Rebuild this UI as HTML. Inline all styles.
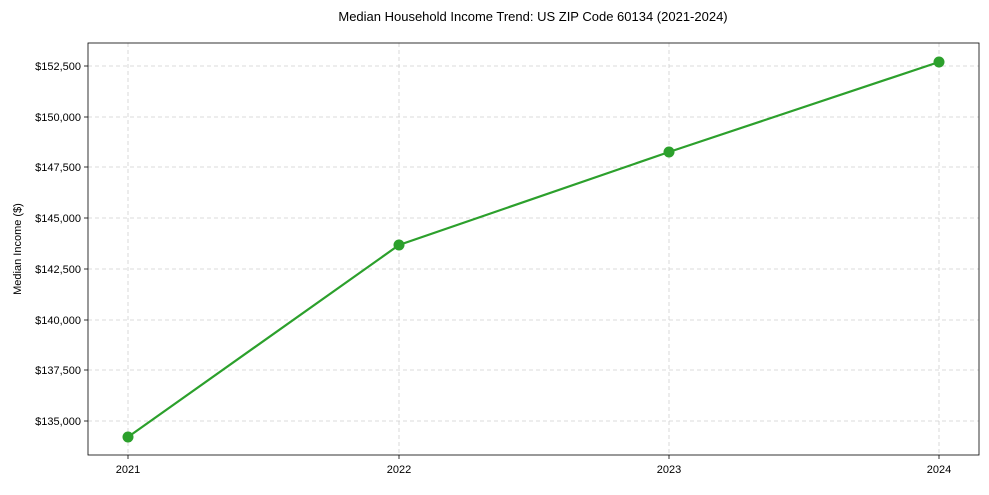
<!DOCTYPE html>
<html><head><meta charset="utf-8"><style>
html,body{margin:0;padding:0;background:#fff;}
svg text{font-family:"Liberation Sans Narrow","Liberation Sans",sans-serif;fill:#000;}
</style></head><body>
<svg width="989" height="490" viewBox="0 0 989 490" xmlns="http://www.w3.org/2000/svg">
<rect width="989" height="490" fill="#fff"/>
<g stroke="#d0d0d0" stroke-width="0.8" stroke-dasharray="4,3">
<line x1="128" y1="43" x2="128" y2="455"/>
<line x1="399" y1="43" x2="399" y2="455"/>
<line x1="669" y1="43" x2="669" y2="455"/>
<line x1="939" y1="43" x2="939" y2="455"/>
<line x1="88" y1="66" x2="979" y2="66"/>
<line x1="88" y1="117" x2="979" y2="117"/>
<line x1="88" y1="167" x2="979" y2="167"/>
<line x1="88" y1="218" x2="979" y2="218"/>
<line x1="88" y1="269" x2="979" y2="269"/>
<line x1="88" y1="320" x2="979" y2="320"/>
<line x1="88" y1="370" x2="979" y2="370"/>
<line x1="88" y1="421" x2="979" y2="421"/>
</g>
<rect x="88" y="43" width="891" height="412" fill="none" stroke="#000" stroke-width="0.8"/>
<g stroke="#000" stroke-width="0.8">
<line x1="128" y1="455" x2="128" y2="459"/><line x1="399" y1="455" x2="399" y2="459"/>
<line x1="669" y1="455" x2="669" y2="459"/><line x1="939" y1="455" x2="939" y2="459"/>
<line x1="84" y1="66" x2="88" y2="66"/><line x1="84" y1="117" x2="88" y2="117"/>
<line x1="84" y1="167" x2="88" y2="167"/><line x1="84" y1="218" x2="88" y2="218"/>
<line x1="84" y1="269" x2="88" y2="269"/><line x1="84" y1="320" x2="88" y2="320"/>
<line x1="84" y1="370" x2="88" y2="370"/><line x1="84" y1="421" x2="88" y2="421"/>
</g>
<g font-size="11" text-anchor="end">
<text x="81" y="70">$152,500</text><text x="81" y="121">$150,000</text>
<text x="81" y="171">$147,500</text><text x="81" y="222">$145,000</text>
<text x="81" y="273">$142,500</text><text x="81" y="324">$140,000</text>
<text x="81" y="374">$137,500</text><text x="81" y="425">$135,000</text>
</g>
<g font-size="11" text-anchor="middle">
<text x="128" y="473">2021</text><text x="399" y="473">2022</text>
<text x="669" y="473">2023</text><text x="939" y="473">2024</text>
</g>
<text x="21" y="249" font-size="11" text-anchor="middle" transform="rotate(-90 21 249)">Median Income ($)</text>
<text x="533" y="21" font-size="13" text-anchor="middle">Median Household Income Trend: US ZIP Code 60134 (2021-2024)</text>
<polyline points="128,437 399,245 669,152 939,62" fill="none" stroke="#2ca02c" stroke-width="2.2"/>
<g fill="#2ca02c">
<circle cx="128" cy="437" r="5.5"/><circle cx="399" cy="245" r="5.5"/>
<circle cx="669" cy="152" r="5.5"/><circle cx="939" cy="62" r="5.5"/>
</g>
</svg>
</body></html>
